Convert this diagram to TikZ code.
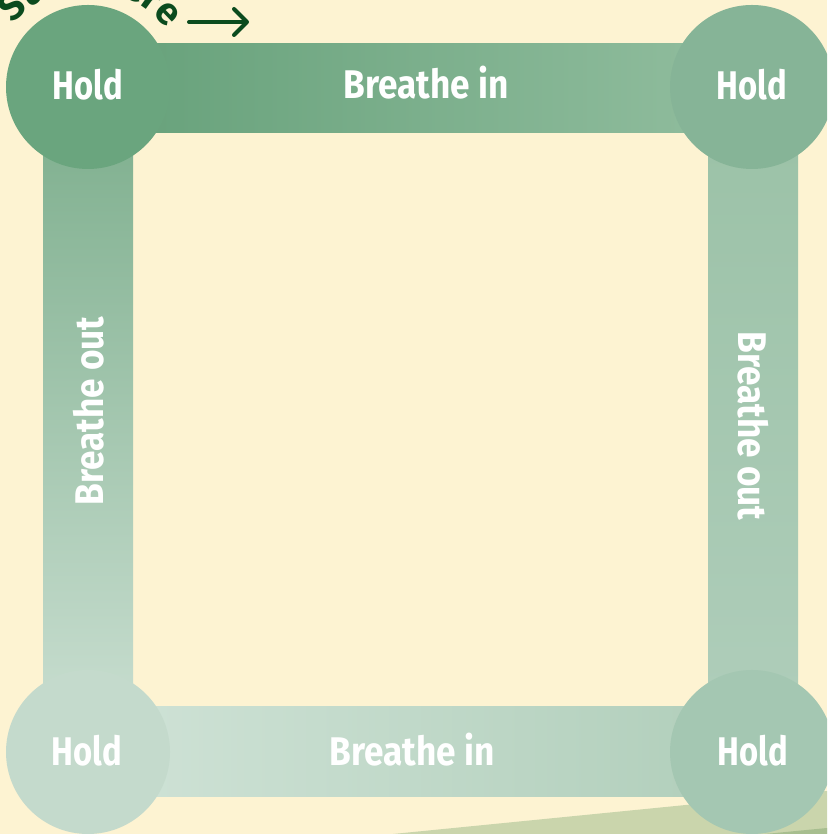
\documentclass[tikz,border=0pt]{standalone}
\usepackage{fontspec}
\usepackage{graphicx}
\setmainfont{Fira Sans}
\usetikzlibrary{calc,arrows.meta,decorations.text}
\definecolor{bg}{HTML}{FDF3D2}
\definecolor{cTL}{HTML}{6AA57E}
\definecolor{cTR}{HTML}{86B497}
\definecolor{cBR}{HTML}{A4C7B2}
\definecolor{cBL}{HTML}{C4DACC}
\definecolor{topL}{HTML}{65A079}
\definecolor{topR}{HTML}{92BE9F}
\definecolor{leftT}{HTML}{7BAD8B}
\definecolor{leftB}{HTML}{CCE0D3}
\definecolor{rightT}{HTML}{9AC1A6}
\definecolor{rightB}{HTML}{B0CEBB}
\definecolor{botL}{HTML}{D0E3D7}
\definecolor{botR}{HTML}{B0CEBA}
\definecolor{olive}{HTML}{CAD5AC}
\definecolor{olivedark}{HTML}{A7BE8F}
\definecolor{darkgreen}{HTML}{0B4B1E}
\newcommand{\narrowtxt}[1]{\scalebox{0.88}[1]{#1}}
\newcommand{\holdtxt}{\scalebox{0.82}[1]{Hold}}
\newcommand{\startfont}{\fontsize{38}{42}\selectfont\bfseries}
\begin{document}
\begin{tikzpicture}[x=1pt,y=1pt,
  holdcircle/.style={circle, minimum size=164pt, inner sep=0pt, draw=none},
  lbl/.style={text=white, font=\fontsize{40}{44}\selectfont\bfseries, inner sep=0pt, anchor=base}]
\useasboundingbox (0,0) rectangle (827,834);
\clip (0,0) rectangle (827,834);
\fill[bg] (0,0) rectangle (827,834);
% ground wedge
\fill[olive] (393,0) -- (827,43) -- (827,0) -- cycle;
% corner positions
\coordinate (pTL) at (88,747);
\coordinate (pTR) at (752,747);
\coordinate (pBL) at (88,82);
\coordinate (pBR) at (752,82);
% bars
\fill[left color=topL, right color=topR] ($(pTL)+(0,-46)$) rectangle ($(pTR)+(0,43)$);
\fill[top color=leftT, bottom color=leftB] ($(pTL)+(-45,0)$) rectangle ($(pBL)+(45,0)$);
\fill[top color=rightT, bottom color=rightB] ($(pTR)+(-44,0)$) rectangle ($(pBR)+(46,0)$);
\fill[left color=botL, right color=botR] ($(pBL)+(0,-45)$) rectangle ($(pBR)+(0,45)$);
% corner circles
\node[holdcircle, fill=cTL] (tl) at (pTL) {};
\node[holdcircle, fill=cTR] (tr) at (pTR) {};
\node[holdcircle, fill=cBL] (bl) at (pBL) {};
\node[holdcircle, fill=cBR] (br) at (pBR) {};
\fill[olivedark] (765,0) -- (827,6) -- (827,0) -- cycle;
% labels
\node[lbl] (holdtl) at (88,734) {\holdtxt};
\node[lbl] (holdtr) at (752,734) {\holdtxt};
\node[lbl] (holdbl) at (87,68) {\holdtxt};
\node[lbl] (holdbr) at (753,68) {\holdtxt};
\node[lbl] (intop) at (426,735) {\narrowtxt{Breathe in}};
\node[lbl] (inbot) at (412,68) {\narrowtxt{Breathe in}};
\node[lbl, rotate=90] (outleft) at (103,423) {\narrowtxt{Breathe out}};
\node[lbl, rotate=-90] (outright) at (738,408) {\narrowtxt{Breathe out}};
% start here
\path[decorate, decoration={text along path, text align=center,
  text={|\startfont\color{darkgreen}|Start here}}]
  (1.8,795.1) arc[start angle=149, end angle=27, radius=100];
\coordinate (arrowstart) at (189,812);
\coordinate (arrowend) at (249,812);
\draw[darkgreen, line width=4pt, line cap=round,
  -{Straight Barb[round, length=13pt, width=26pt]}] (arrowstart) -- (arrowend);
\end{tikzpicture}
\end{document}
